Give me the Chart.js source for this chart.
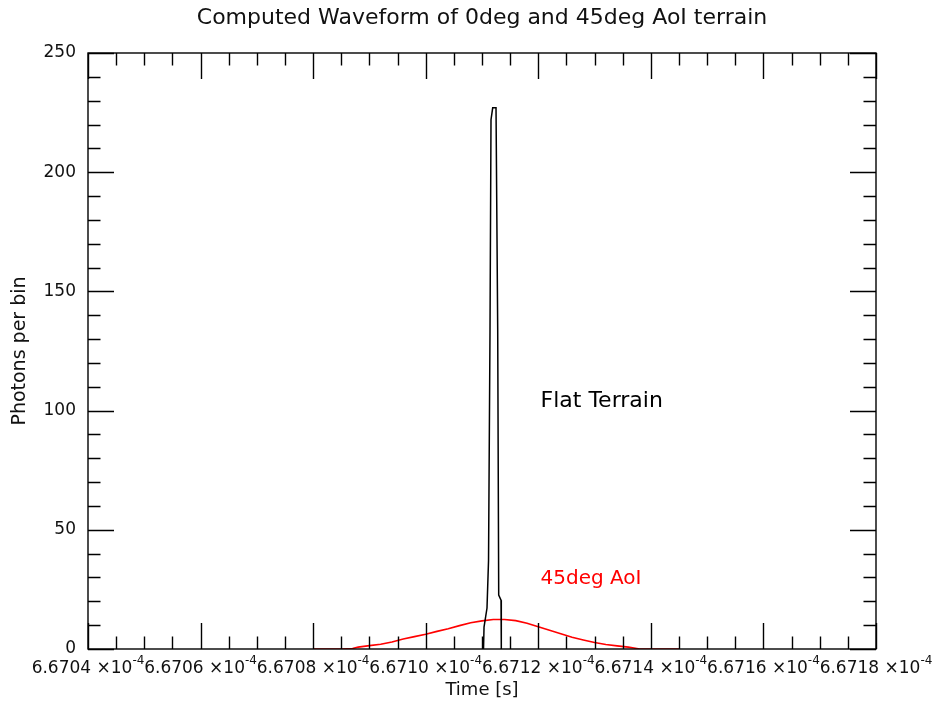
<!DOCTYPE html>
<html>
<head>
<meta charset="utf-8">
<title>Computed Waveform</title>
<script src="https://cdn.jsdelivr.net/npm/chart.js@4.4.1/dist/chart.umd.min.js"></script>
<style>
  html, body { margin: 0; padding: 0; background: #ffffff; }
  #wrap { width: 933px; height: 707px; }
</style>
</head>
<body>
<div id="wrap"><canvas id="c" width="933" height="707"></canvas></div>
<script>
// Time axis values are in units of 1e-4 s.
const xTickValues = [6.6704, 6.6706, 6.6708, 6.6710, 6.6712, 6.6714, 6.6716, 6.6718];
const xTickMantissas = ['6.6704', '6.6706', '6.6708', '6.6710', '6.6712', '6.6714', '6.6716', '6.6718'];
const xTickExponent = '-4';
const yTickValues = [0, 50, 100, 150, 200, 250];

// Flat terrain return (0 deg angle of incidence)
const flatTime = [6.6711027, 6.6711036, 6.6711089, 6.6711116, 6.6711142, 6.6711160,
                  6.6711190, 6.6711249, 6.6711279, 6.6711297, 6.6711338, 6.6711343];
const flatPhotons = [0, 9.2, 17.2, 37, 133, 222, 227, 227, 134, 22.6, 20.5, 0];

// 45 deg angle of incidence return
const aoiTime = [6.67080, 6.67085, 6.67087, 6.67088, 6.67090, 6.67092, 6.67094, 6.67096,
                 6.67098, 6.67100, 6.67102, 6.67104, 6.67106, 6.67108, 6.67110, 6.67112,
                 6.67114, 6.67116, 6.67118, 6.67120, 6.67122, 6.67124, 6.67126, 6.67128,
                 6.67130, 6.67132, 6.67134, 6.67136, 6.67137, 6.67138, 6.67142, 6.67145];
const aoiPhotons = [0, 0, 0.2, 0.8, 1.4, 2.0, 2.9, 4.2,
                    5.2, 6.2, 7.4, 8.5, 9.8, 11.0, 11.8, 12.4,
                    12.4, 11.9, 10.8, 9.3, 7.9, 6.4, 4.9, 3.8,
                    2.7, 1.9, 1.3, 0.8, 0.4, 0, 0, 0];

const title = 'Computed Waveform of 0deg and 45deg AoI terrain';
const xTitle = 'Time [s]';
const yTitle = 'Photons per bin';
const seriesNames = ['Flat Terrain', '45deg AoI'];
const seriesLabelAt = [[6.671204, 104], [6.671204, 29.5]];
const seriesColors = ['#000000', '#ff0000'];

const FONT = '"DejaVu Sans", "Liberation Sans", sans-serif';

function pairs(xs, ys) { return xs.map((x, i) => ({ x: x, y: ys[i] })); }

// Frame with inward ticks on all four sides, axis labels and annotations.
const framePlugin = {
  id: 'frame',
  afterDatasetsDraw(chart) {
    const ctx = chart.ctx;
    const a = chart.chartArea;
    const xs = chart.scales.x, ys = chart.scales.y;
    ctx.save();
    ctx.strokeStyle = '#000';
    ctx.lineWidth = 1.4;
    ctx.strokeRect(a.left, a.top, a.right - a.left, a.bottom - a.top);

    const MAJ = 26, MIN = 12.5;
    ctx.beginPath();
    // x ticks (bottom and top)
    for (let i = 0; i < xTickValues.length; i++) {
      const px = Math.round(xs.getPixelForValue(xTickValues[i])) + 0.5;
      ctx.moveTo(px, a.bottom); ctx.lineTo(px, a.bottom - MAJ);
      ctx.moveTo(px, a.top); ctx.lineTo(px, a.top + MAJ);
      if (i < xTickValues.length - 1) {
        const step = (xTickValues[i + 1] - xTickValues[i]) / 4;
        for (let k = 1; k < 4; k++) {
          const mx = Math.round(xs.getPixelForValue(xTickValues[i] + k * step)) + 0.5;
          ctx.moveTo(mx, a.bottom); ctx.lineTo(mx, a.bottom - MIN);
          ctx.moveTo(mx, a.top); ctx.lineTo(mx, a.top + MIN);
        }
      }
    }
    // y ticks (left and right)
    for (let i = 0; i < yTickValues.length; i++) {
      const py = Math.round(ys.getPixelForValue(yTickValues[i])) + 0.5;
      ctx.moveTo(a.left, py); ctx.lineTo(a.left + MAJ, py);
      ctx.moveTo(a.right, py); ctx.lineTo(a.right - MAJ, py);
      if (i < yTickValues.length - 1) {
        const step = (yTickValues[i + 1] - yTickValues[i]) / 5;
        for (let k = 1; k < 5; k++) {
          const my = Math.round(ys.getPixelForValue(yTickValues[i] + k * step)) + 0.5;
          ctx.moveTo(a.left, my); ctx.lineTo(a.left + MIN, my);
          ctx.moveTo(a.right, my); ctx.lineTo(a.right - MIN, my);
        }
      }
    }
    ctx.stroke();

    // x tick labels with a raised exponent
    ctx.fillStyle = '#111';
    ctx.textBaseline = 'alphabetic';
    const mainFont = '17px ' + FONT, supFont = '12px ' + FONT;
    for (let i = 0; i < xTickValues.length; i++) {
      const px = xs.getPixelForValue(xTickValues[i]);
      ctx.font = mainFont;
      const m = xTickMantissas[i] + ' \u00d710';
      const wm = ctx.measureText(m).width;
      ctx.font = supFont;
      const we = ctx.measureText(xTickExponent).width;
      const x0 = px - (wm + we) / 2;
      ctx.font = mainFont;
      ctx.textAlign = 'left';
      ctx.fillText(m, x0, a.bottom + 24);
      ctx.font = supFont;
      ctx.fillText(xTickExponent, x0 + wm, a.bottom + 15);
    }

    // titles
    ctx.textAlign = 'center';
    ctx.textBaseline = 'middle';
    ctx.font = '22px ' + FONT;
    ctx.fillText(title, (a.left + a.right) / 2, 18);
    ctx.font = '18px ' + FONT;
    ctx.fillText(xTitle, (a.left + a.right) / 2, a.bottom + 41);
    ctx.save();
    ctx.translate(20, (a.top + a.bottom) / 2);
    ctx.rotate(-Math.PI / 2);
    ctx.font = '19px ' + FONT;
    ctx.fillText(yTitle, 0, 0);
    ctx.restore();

    // series annotations
    ctx.textAlign = 'left';
    const labelSizes = [22, 20];
    for (let i = 0; i < seriesNames.length; i++) {
      ctx.font = labelSizes[i] + 'px ' + FONT;
      ctx.fillStyle = seriesColors[i];
      ctx.fillText(seriesNames[i], xs.getPixelForValue(seriesLabelAt[i][0]),
                   ys.getPixelForValue(seriesLabelAt[i][1]));
    }
    ctx.restore();
  }
};

new Chart(document.getElementById('c'), {
  type: 'line',
  data: {
    datasets: [
      { label: seriesNames[0], data: pairs(flatTime, flatPhotons), borderColor: seriesColors[0],
        borderWidth: 1.5, pointRadius: 0, tension: 0, fill: false },
      { label: seriesNames[1], data: pairs(aoiTime, aoiPhotons), borderColor: seriesColors[1],
        borderWidth: 1.6, pointRadius: 0, tension: 0, fill: false }
    ]
  },
  options: {
    responsive: false,
    devicePixelRatio: 1,
    animation: false,
    layout: { padding: { top: 53, right: 57, left: 0, bottom: 0 } },
    plugins: { legend: { display: false }, title: { display: false }, tooltip: { enabled: false } },
    scales: {
      x: {
        type: 'linear', min: xTickValues[0], max: xTickValues[xTickValues.length - 1],
        grid: { display: false, drawTicks: false }, border: { display: false },
        ticks: { display: false },
        afterFit(scale) { scale.height = 58; }
      },
      y: {
        type: 'linear', min: 0, max: 250,
        grid: { display: false, drawTicks: false }, border: { display: false },
        ticks: { stepSize: 50, padding: 12, color: '#111', font: { family: FONT, size: 17 } },
        afterFit(scale) { scale.width = 88; }
      }
    }
  },
  plugins: [framePlugin]
});
</script>
</body>
</html>
